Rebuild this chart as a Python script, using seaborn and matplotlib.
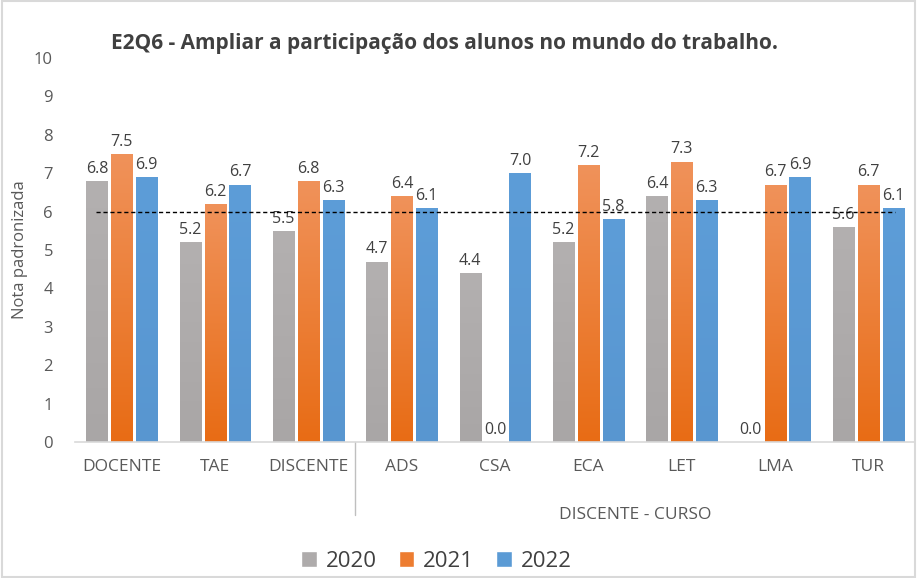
import numpy as np
import pandas as pd
import matplotlib
matplotlib.use("Agg")
import matplotlib.pyplot as plt
import seaborn as sns
from matplotlib.colors import LinearSegmentedColormap, to_rgb
from matplotlib.patches import Rectangle

# ---------------- DADOS ----------------
categorias = ["DOCENTE", "TAE", "DISCENTE", "ADS", "CSA", "ECA", "LET", "LMA", "TUR"]
anos = ["2020", "2021", "2022"]
v2020 = [6.8, 5.2, 5.5, 4.7, 4.4, 5.2, 6.4, 0.0, 5.6]
v2021 = [7.5, 6.2, 6.8, 6.4, 0.0, 7.2, 7.3, 6.7, 6.7]
v2022 = [6.9, 6.7, 6.3, 6.1, 7.0, 5.8, 6.3, 6.9, 6.1]
meta = 6.0
titulo = "E2Q6 - Ampliar a participação dos alunos no mundo do trabalho."

cores = {"2020": "#AEABAB", "2021": "#ED7D31", "2022": "#5B9BD5"}
topo = {"2020": "#B3B0B0", "2021": "#F0925A", "2022": "#5D9DD8"}
base = {"2020": "#A9A6A6", "2021": "#E86C15", "2022": "#5896D0"}

df = pd.DataFrame({
    "categoria": categorias * 3,
    "ano": sum([[a] * len(categorias) for a in anos], []),
    "nota": v2020 + v2021 + v2022,
})

# ---------------- FIGURA ----------------
sns.set_theme(style="white")
plt.rcParams["font.family"] = ["Open Sans", "DejaVu Sans"]
TXT = "#595959"

fig = plt.figure(figsize=(9.17, 5.78), dpi=100)
ax = fig.add_axes([0.082, 0.235, 0.916, 0.665])

sns.barplot(data=df, x="categoria", y="nota", hue="ano", order=categorias,
            hue_order=anos, palette=cores, width=0.8, gap=0.15, ax=ax,
            legend=True, saturation=1)

# gradiente vertical nas barras
for cont, ano in zip(ax.containers, anos):
    cmap = LinearSegmentedColormap.from_list(ano, [to_rgb(base[ano]), to_rgb(topo[ano])])
    for p in cont.patches:
        x0, y0 = p.get_x(), p.get_y()
        w, h = p.get_width(), p.get_height()
        if h <= 0:
            continue
        p.set_facecolor("none")
        p.set_edgecolor("none")
        grad = np.linspace(0, 1, 100).reshape(-1, 1)
        im = ax.imshow(grad, cmap=cmap, origin="lower", aspect="auto",
                       extent=[x0, x0 + w, y0, y0 + h], zorder=2)
        im.set_clip_path(Rectangle((x0, y0), w, h, transform=ax.transData))

# rótulos de dados
for cont in ax.containers:
    ax.bar_label(cont, fmt="%.1f", padding=3, fontsize=11.5, color="#404040")

# linha de referência
ax.plot([-0.28, 8.28], [meta, meta], ls=(0, (3, 2)), color="black", lw=1.0, zorder=3)

ax.set_xlim(-0.5, 8.5)
ax.set_ylim(0, 10)
ax.set_yticks(range(0, 11))
ax.tick_params(axis="y", length=0, labelsize=12, labelcolor=TXT, pad=16)
ax.tick_params(axis="x", length=0, labelsize=12.5, labelcolor=TXT, pad=12)
ax.set_xlabel("")
ax.set_ylabel("Nota padronizada", fontsize=12, color=TXT, labelpad=4)
for s in ["top", "right", "left"]:
    ax.spines[s].set_visible(False)
ax.spines["bottom"].set_color("#D9D9D9")
ax.spines["bottom"].set_linewidth(1.2)

# separador e rótulo de grupo
ax.plot([2.5, 2.5], [0, -0.19], transform=ax.get_xaxis_transform(), color="#BFBFBF",
        lw=1, clip_on=False)
ax.text(5.5, -0.19, "DISCENTE - CURSO", transform=ax.get_xaxis_transform(),
        ha="center", va="center", fontsize=12.5, color=TXT)

ax.set_title(titulo, fontsize=15, fontweight="bold", color="#404040",
             x=0.44, y=1.0)

# legenda
handles, labels = ax.get_legend_handles_labels()
ax.legend(handles, labels, loc="center", bbox_to_anchor=(0.43, -0.31), ncol=3,
          frameon=False, fontsize=16, handlelength=0.7, handleheight=0.7,
          handletextpad=0.4, columnspacing=1.0, labelcolor="#404040")

fig.patches.append(Rectangle((0.002, 0.002), 0.996, 0.996, transform=fig.transFigure,
                             fill=False, edgecolor="#D9D9D9", lw=1.5))

fig.savefig("out.png", dpi=100)
